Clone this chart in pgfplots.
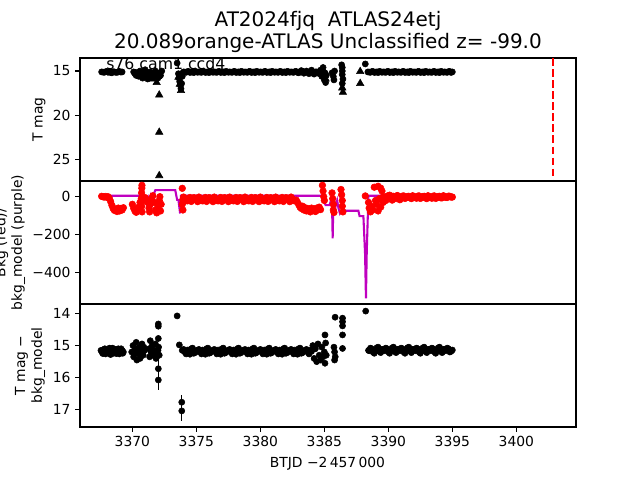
\documentclass[border=0pt]{standalone}
\usepackage{pgfplots}
\pgfplotsset{compat=1.18}
\usepackage{fontspec}
\setmainfont{DejaVu Sans}
\definecolor{mpurple}{rgb}{0.75,0,0.75}
\begin{document}
\begin{tikzpicture}
\useasboundingbox (0,0) rectangle (480pt,-360pt);
\pgfplotsset{
  panel/.style={scale only axis, width=372pt, height=92.25pt,
    xmin=3365.91, xmax=3404.66, anchor=north west,
    axis line style={line width=0.83pt}, tick style={line width=0.83pt, black},
    tick align=outside, major tick length=3.6pt, xtick pos=bottom, ytick pos=left,
    every tick label/.append style={font=\fontsize{10.4}{12.5}\selectfont},
    /pgf/number format/assume math mode=true, /pgf/number format/1000 sep={},
    clip=true},
  kdot/.style={only marks, mark=*, mark size=2.3pt, black, mark options={draw=none, fill=black}},
  rdot/.style={only marks, mark=*, mark size=2.5pt, red, mark options={draw=none, fill=red}},
  ktri/.style={only marks, mark=triangle*, mark size=3.2pt, black, mark options={draw=none, fill=black}}
}
% ---------------- top panel
\begin{axis}[panel, at={(60pt,-43.5pt)}, y dir=reverse, ymin=13.53, ymax=27.41, ytick={15,20,25}, xtick=\empty]
\addplot[kdot] coordinates {
(3367.6,15.1)(3367.7,15.12)(3367.8,15.15)(3367.9,15.08)(3368.0,15.05)(3368.1,15.14)(3368.2,15.1)(3368.3,15.16)(3368.4,15.2)(3368.5,15.08)(3368.6,15.1)(3368.7,15.14)(3368.8,15.15)(3368.9,15.1)(3369.0,15.05)(3369.1,15.12)(3369.2,15.1)
(3370.1,15.1)(3370.2,15.3)(3370.3,15.5)(3370.4,15.2)(3370.5,15.6)(3370.6,15.0)(3370.7,15.4)(3370.8,15.8)(3370.9,15.3)(3371.0,14.85)(3371.0,15.6)(3371.1,15.2)(3371.2,15.9)(3371.3,15.5)(3371.4,15.1)(3371.5,15.7)(3371.6,15.3)(3371.7,15.6)(3371.8,15.0)(3371.9,15.4)(3372.0,15.8)(3372.1,15.2)(3372.2,15.5)(3372.3,15.0)
(3370.25,15.15)(3370.45,15.4)(3370.65,15.25)(3371.15,15.45)(3371.45,15.3)(3371.75,15.2)(3372.05,15.45)
(3373.5,14.1)(3373.6,15.3)(3373.65,15.8)(3373.7,16.2)(3373.75,16.6)(3373.8,17.0)(3373.85,16.4)(3373.9,15.6)(3373.95,15.2)
(3374.0,15.1)(3374.2,15.15)(3374.4,15.05)(3374.6,15.12)(3374.8,15.18)(3375.0,15.08)(3375.2,15.1)(3375.4,15.15)(3375.6,15.05)(3375.8,15.12)(3376.0,15.18)(3376.2,15.08)(3376.4,15.1)(3376.6,15.15)(3376.8,15.05)(3377.0,15.12)(3377.2,15.18)(3377.4,15.08)(3377.6,15.1)(3377.8,15.15)(3378.0,15.05)(3378.2,15.12)(3378.4,15.18)(3378.6,15.08)(3378.8,15.1)(3379.0,15.15)(3379.2,15.05)(3379.4,15.12)(3379.6,15.18)(3379.8,15.08)(3380.0,15.1)(3380.2,15.15)(3380.4,15.05)(3380.6,15.12)(3380.8,15.18)(3381.0,15.08)(3381.2,15.1)(3381.4,15.15)(3381.6,15.05)(3381.8,15.12)(3382.0,15.18)(3382.2,15.08)(3382.4,15.1)(3382.6,15.15)(3382.8,15.05)(3383.0,15.2)(3383.2,14.95)(3383.4,15.25)(3383.6,15.0)(3383.8,15.3)(3384.0,14.9)(3384.2,15.35)(3384.4,15.1)
(3374.1,15.12)(3374.3,15.06)(3374.5,15.16)(3374.7,15.1)(3374.9,15.04)(3375.1,15.14)(3375.3,15.12)(3375.5,15.06)(3375.7,15.16)(3375.9,15.1)(3376.1,15.04)(3376.3,15.14)(3376.5,15.12)(3376.7,15.06)(3376.9,15.16)(3377.1,15.1)(3377.3,15.04)(3377.5,15.14)(3377.7,15.12)(3377.9,15.06)(3378.1,15.16)(3378.3,15.1)(3378.5,15.04)(3378.7,15.14)(3378.9,15.12)(3379.1,15.06)(3379.3,15.16)(3379.5,15.1)(3379.7,15.04)(3379.9,15.14)(3380.1,15.12)(3380.3,15.06)(3380.5,15.16)(3380.7,15.1)(3380.9,15.04)(3381.1,15.14)(3381.3,15.12)(3381.5,15.06)(3381.7,15.16)(3381.9,15.1)(3382.1,15.04)(3382.3,15.14)(3382.5,15.12)(3382.7,15.06)(3382.9,15.16)(3383.1,15.1)(3383.3,15.04)(3383.5,15.14)(3383.7,15.12)(3383.9,15.06)(3384.1,15.16)(3384.3,15.1)
(3384.6,15.3)(3384.7,14.9)(3384.8,15.6)(3384.9,14.6)(3385.0,16.0)(3385.05,15.2)(3385.1,16.3)(3385.15,15.5)(3385.6,15.2)(3385.7,15.6)(3385.75,16.0)(3385.8,15.0)(3386.35,14.3)(3386.4,14.6)(3386.4,15.0)(3386.4,15.4)(3386.45,15.9)(3386.4,16.4)
(3388.2,14.2)
(3388.4,15.1)(3388.6,15.15)(3388.8,15.05)(3389.0,15.12)(3389.2,15.18)(3389.4,15.08)(3389.6,15.1)(3389.8,15.15)(3390.0,15.05)(3390.2,15.12)(3390.4,15.18)(3390.6,15.08)(3390.8,15.1)(3391.0,15.15)(3391.2,15.05)(3391.4,15.12)(3391.6,15.18)(3391.8,15.08)(3392.0,15.1)(3392.2,15.15)(3392.4,15.05)(3392.6,15.12)(3392.8,15.18)(3393.0,15.08)(3393.2,15.1)(3393.4,15.15)(3393.6,15.05)(3393.8,15.12)(3394.0,15.18)(3394.2,15.08)(3394.4,15.1)(3394.6,15.15)(3394.8,15.05)(3395.0,15.1)
(3388.5,15.12)(3388.7,15.06)(3388.9,15.16)(3389.1,15.1)(3389.3,15.04)(3389.5,15.14)(3389.7,15.12)(3389.9,15.06)(3390.1,15.16)(3390.3,15.1)(3390.5,15.04)(3390.7,15.14)(3390.9,15.12)(3391.1,15.06)(3391.3,15.16)(3391.5,15.1)(3391.7,15.04)(3391.9,15.14)(3392.1,15.12)(3392.3,15.06)(3392.5,15.16)(3392.7,15.1)(3392.9,15.04)(3393.1,15.14)(3393.3,15.12)(3393.5,15.06)(3393.7,15.16)(3393.9,15.1)(3394.1,15.04)(3394.3,15.14)(3394.5,15.12)(3394.7,15.06)(3394.9,15.16)
};
\addplot[ktri] coordinates {
(3372.1,17.7)(3372.1,21.9)(3372.1,26.8)(3371.6,15.9)(3371.9,16.3)(3372.0,15.6)
(3373.6,15.7)(3373.7,16.5)(3373.8,17.2)(3385.1,15.9)(3386.4,16.9)(3386.45,17.4)
(3387.8,15.05)(3387.8,16.4)(3384.9,14.9)
};
\addplot[red, line width=1.56pt, dash pattern=on 5.8pt off 2.5pt] coordinates {(3402.84,13.53)(3402.84,27.41)};
\end{axis}
% ---------------- middle panel
\begin{axis}[panel, at={(60pt,-135.75pt)}, ymin=-565, ymax=82.6, ytick={-400,-200,0}, yticklabels={−400,−200,0}, xtick=\empty]
\addplot[rdot] coordinates {
(3367.6,2)(3367.7,0)(3367.8,-2)(3367.9,1)(3368.0,-3)(3368.1,0)(3368.2,-8)(3368.3,-25)(3368.4,-45)(3368.5,-62)(3368.6,-72)(3368.7,-65)(3368.8,-78)(3368.9,-60)(3369.0,-75)(3369.1,-62)(3369.2,-70)(3369.3,-58)
(3370.0,-40)(3370.1,-60)(3370.2,-75)(3370.3,-82)(3370.4,-70)(3370.5,-55)(3370.6,-30)(3370.7,-10)(3370.72,20)(3370.74,45)(3370.75,60)(3370.73,-50)(3370.76,-80)(3370.9,-20)(3371.0,-5)(3371.2,-30)(3371.3,-60)(3371.35,-80)(3371.4,-40)(3371.5,-10)(3371.6,5)(3371.7,-30)(3371.8,-70)(3371.9,-85)(3372.0,-50)(3372.1,-20)(3372.15,0)(3372.2,-75)(3372.25,-40)
(3373.9,44)(3373.9,-40)(3373.95,-70)(3373.95,-15)
(3374.0,-2)(3374.2,-20)(3374.4,-10)(3374.6,-25)(3374.8,-5)(3375.0,-15)(3375.2,-2)(3375.4,-20)(3375.6,-10)(3375.8,-25)(3376.0,-5)(3376.2,-15)(3376.4,-2)(3376.6,-20)(3376.8,-10)(3377.0,-25)(3377.2,-5)(3377.4,-15)(3377.6,-2)(3377.8,-20)(3378.0,-10)(3378.2,-25)(3378.4,-5)(3378.6,-15)(3378.8,-2)(3379.0,-20)(3379.2,-10)(3379.4,-25)(3379.6,-5)(3379.8,-15)(3380.0,-2)(3380.2,-20)(3380.4,-10)(3380.6,-25)(3380.8,-5)(3381.0,-15)(3381.2,-2)(3381.4,-20)(3381.6,-10)(3381.8,-25)(3382.0,-5)(3382.2,-15)(3382.4,-2)(3382.6,-20)
(3374.1,-12)(3374.3,-22)(3374.5,-4)(3374.7,-18)(3374.9,-8)(3375.1,-26)(3375.3,-12)(3375.5,-22)(3375.7,-4)(3375.9,-18)(3376.1,-8)(3376.3,-26)(3376.5,-12)(3376.7,-22)(3376.9,-4)(3377.1,-18)(3377.3,-8)(3377.5,-26)(3377.7,-12)(3377.9,-22)(3378.1,-4)(3378.3,-18)(3378.5,-8)(3378.7,-26)(3378.9,-12)(3379.1,-22)(3379.3,-4)(3379.5,-18)(3379.7,-8)(3379.9,-26)(3380.1,-12)(3380.3,-22)(3380.5,-4)(3380.7,-18)(3380.9,-8)(3381.1,-26)(3381.3,-12)(3381.5,-22)(3381.7,-4)(3381.9,-18)(3382.1,-8)(3382.3,-26)(3382.5,-12)(3382.7,-22)
(3382.8,-18)(3382.9,-30)(3383.0,-42)(3383.1,-55)(3383.2,-62)(3383.3,-50)(3383.4,-70)(3383.5,-58)(3383.6,-75)(3383.7,-62)(3383.8,-70)(3383.9,-80)(3384.0,-60)(3384.1,-72)(3384.2,-65)(3384.3,-78)(3384.4,-60)(3384.5,-70)(3384.6,-55)(3384.7,-68)
(3384.85,60)(3384.9,30)(3384.95,0)(3385.0,-20)(3385.6,20)(3385.65,-10)(3385.7,-40)(3385.7,-70)(3385.75,-83)(3386.3,38)(3386.35,10)(3386.4,-20)(3386.4,-50)(3386.45,-80)
(3388.2,4)(3388.45,-30)(3388.5,-60)(3388.6,-80)(3388.7,-50)(3388.8,-70)(3388.9,50)(3389.0,-20)(3389.1,-40)(3389.2,55)(3389.2,-75)(3389.3,-10)(3389.4,45)(3389.4,-55)(3389.5,30)(3389.6,-30)
(3389.6,0)(3389.8,-8)(3390.0,4)(3390.2,-5)(3390.4,2)(3390.6,-10)(3390.8,0)(3391.0,-8)(3391.2,4)(3391.4,-5)(3391.6,2)(3391.8,-10)(3392.0,0)(3392.2,-8)(3392.4,4)(3392.6,-5)(3392.8,2)(3393.0,-10)(3393.2,0)(3393.4,-8)(3393.6,4)(3393.8,-5)(3394.0,2)(3394.2,-6)(3394.4,0)(3394.6,-4)(3394.8,2)(3395.0,-2)
(3389.7,-4)(3389.9,3)(3390.1,-9)(3390.3,1)(3390.5,-6)(3390.7,5)(3390.9,-4)(3391.1,3)(3391.3,-9)(3391.5,1)(3391.7,-6)(3391.9,5)(3392.1,-4)(3392.3,3)(3392.5,-9)(3392.7,1)(3392.9,-6)(3393.1,5)(3393.3,-4)(3393.5,3)(3393.7,-9)(3393.9,1)(3394.1,-6)(3394.3,5)(3394.5,-4)(3394.7,3)(3394.9,-2)
(3389.8,-20)(3390.1,8)(3390.3,-18)(3390.7,6)(3390.9,-16)
};
\addplot[mpurple, line width=1.56pt] coordinates {
(3367.53,5)(3371.0,5)(3371.05,-20)(3371.15,-44)(3371.25,-10)(3371.35,-35)(3371.45,0)(3371.55,-30)(3371.65,10)(3371.8,35)(3373.35,35)(3373.5,-17)(3373.6,-17)(3373.73,-88)(3373.8,5)(3384.9,5)(3385.0,-30)(3385.1,-44)(3385.4,-44)(3385.5,-25)(3385.6,-44)(3385.65,-219)(3385.7,-44)(3385.8,-30)(3385.9,-45)(3386.0,-20)(3386.1,-60)(3386.22,-88)(3386.36,-74)(3387.66,-74)(3387.75,-102)(3388.05,-102)(3388.18,-300)(3388.25,-535)(3388.31,-300)(3388.44,5)(3394.95,5)
};
\end{axis}
% ---------------- bottom panel
\begin{axis}[panel, at={(60pt,-228pt)}, y dir=reverse, ymin=13.71, ymax=17.53, ytick={14,15,16,17}, xtick={3370,3375,...,3400}]
\addplot[kdot] coordinates {
(3367.55,15.15)(3367.7,15.25)(3367.85,15.1)(3368.0,15.22)(3368.15,15.12)(3368.3,15.28)(3368.45,15.08)(3368.6,15.2)(3368.75,15.25)(3368.9,15.1)(3369.05,15.22)(3369.2,15.15)(3369.3,15.2)
(3367.62,15.2)(3367.78,15.12)(3367.92,15.26)(3368.08,15.16)(3368.22,15.08)(3368.38,15.2)(3368.52,15.24)(3368.68,15.12)(3368.82,15.18)(3368.98,15.26)(3369.12,15.1)(3369.25,15.24)
(3369.95,15.2)(3370.05,15.0)(3370.1,15.35)(3370.2,15.15)(3370.3,14.9)(3370.35,15.45)(3370.45,15.25)(3370.55,15.05)(3370.6,15.4)(3370.7,15.2)(3370.75,14.95)(3370.85,15.3)(3370.95,15.15)(3371.3,15.1)(3371.35,15.35)(3371.4,14.85)(3371.45,15.2)(3371.55,15.0)(3371.6,15.3)(3371.7,15.15)(3371.8,14.95)(3371.85,15.4)(3371.95,15.25)(3372.05,15.05)(3372.1,15.3)(3372.03,14.33)(3372.03,14.4)(3372.03,14.78)
(3370.15,15.25)(3370.4,15.1)(3370.65,15.3)(3370.9,15.05)(3371.5,15.15)(3371.75,15.3)(3372.0,15.15)
(3373.5,14.08)(3373.67,14.98)(3373.9,15.15)
(3374.0,15.12)(3374.2,15.26)(3374.4,15.18)(3374.6,15.10)(3374.8,15.24)(3375.0,15.16)(3375.2,15.12)(3375.4,15.26)(3375.6,15.18)(3375.8,15.10)(3376.0,15.24)(3376.2,15.16)(3376.4,15.12)(3376.6,15.26)(3376.8,15.18)(3377.0,15.10)(3377.2,15.24)(3377.4,15.16)(3377.6,15.12)(3377.8,15.26)(3378.0,15.18)(3378.2,15.10)(3378.4,15.24)(3378.6,15.16)(3378.8,15.12)(3379.0,15.26)(3379.2,15.18)(3379.4,15.10)(3379.6,15.24)(3379.8,15.16)(3380.0,15.12)(3380.2,15.26)(3380.4,15.18)(3380.6,15.10)(3380.8,15.24)(3381.0,15.16)(3381.2,15.12)(3381.4,15.26)(3381.6,15.18)(3381.8,15.10)(3382.0,15.24)(3382.2,15.16)(3382.4,15.12)(3382.6,15.26)(3382.8,15.18)(3383.0,15.10)(3383.2,15.24)(3383.4,15.16)(3383.6,15.12)(3383.8,15.26)(3384.0,15.18)
(3374.1,15.2)(3374.3,15.14)(3374.5,15.27)(3374.7,15.08)(3374.9,15.22)(3375.1,15.15)(3375.3,15.2)(3375.5,15.14)(3375.7,15.27)(3375.9,15.08)(3376.1,15.22)(3376.3,15.15)(3376.5,15.2)(3376.7,15.14)(3376.9,15.27)(3377.1,15.08)(3377.3,15.22)(3377.5,15.15)(3377.7,15.2)(3377.9,15.14)(3378.1,15.27)(3378.3,15.08)(3378.5,15.22)(3378.7,15.15)(3378.9,15.2)(3379.1,15.14)(3379.3,15.27)(3379.5,15.08)(3379.7,15.22)(3379.9,15.15)(3380.1,15.2)(3380.3,15.14)(3380.5,15.27)(3380.7,15.08)(3380.9,15.22)(3381.1,15.15)(3381.3,15.2)(3381.5,15.14)(3381.7,15.27)(3381.9,15.08)(3382.1,15.22)(3382.3,15.15)(3382.5,15.2)(3382.7,15.14)(3382.9,15.27)(3383.1,15.08)(3383.3,15.22)(3383.5,15.15)(3383.7,15.2)(3383.9,15.14)
(3384.1,15.0)(3384.2,15.4)(3384.3,15.1)(3384.4,15.5)(3384.5,14.95)(3384.6,15.3)(3384.7,15.45)(3384.8,15.05)(3384.9,15.35)(3385.0,15.2)(3385.05,15.55)(3385.1,14.92)(3385.15,15.3)
(3385.05,14.67)(3385.84,14.12)(3385.75,15.05)(3385.8,15.2)(3385.85,15.35)(3385.8,15.45)(3386.42,14.15)(3386.42,14.26)(3386.42,14.39)(3386.42,14.67)(3386.42,15.09)(3388.23,13.93)
(3388.45,15.15)(3388.6,15.08)(3388.8,15.2)(3389.0,15.14)(3389.2,15.05)(3389.4,15.22)(3389.6,15.12)(3389.8,15.08)(3390.0,15.2)(3390.2,15.14)(3390.4,15.05)(3390.6,15.22)(3390.8,15.12)(3391.0,15.08)(3391.2,15.2)(3391.4,15.14)(3391.6,15.05)(3391.8,15.22)(3392.0,15.12)(3392.2,15.08)(3392.4,15.2)(3392.6,15.14)(3392.8,15.05)(3393.0,15.22)(3393.2,15.12)(3393.4,15.08)(3393.6,15.2)(3393.8,15.14)(3394.0,15.05)(3394.2,15.22)(3394.4,15.12)(3394.6,15.08)(3394.8,15.2)(3395.0,15.14)
(3388.5,15.16)(3388.7,15.1)(3388.9,15.24)(3389.1,15.07)(3389.3,15.18)(3389.5,15.12)(3389.7,15.16)(3389.9,15.1)(3390.1,15.24)(3390.3,15.07)(3390.5,15.18)(3390.7,15.12)(3390.9,15.16)(3391.1,15.1)(3391.3,15.24)(3391.5,15.07)(3391.7,15.18)(3391.9,15.12)(3392.1,15.16)(3392.3,15.1)(3392.5,15.24)(3392.7,15.07)(3392.9,15.18)(3393.1,15.12)(3393.3,15.16)(3393.5,15.1)(3393.7,15.24)(3393.9,15.07)(3394.1,15.18)(3394.3,15.12)(3394.5,15.16)(3394.7,15.1)(3394.9,15.18)
};
\addplot[kdot, error bars/.cd, y dir=both, y explicit, error bar style={line width=1.1pt, black}, error mark=none] coordinates {
(3372.03,15.72) +- (0,0.35)
(3372.03,16.07) +- (0,0.32)
(3373.86,16.76) +- (0,0.22)
(3373.86,17.03) +- (0,0.3)
};
\end{axis}
% ---------------- texts
\node[anchor=base, font=\fontsize{15}{18}\selectfont] at (246pt,-20pt) {AT2024fjq\ \ ATLAS24etj};
\node[anchor=base, font=\fontsize{15}{18}\selectfont] at (246pt,-36.2pt) {20.089orange-ATLAS Unclassified z= -99.0};
\node[anchor=base west, font=\fontsize{11.8}{14}\selectfont, inner sep=0pt] at (79.5pt,-51.75pt) {s76 cam1 ccd4};
\node[rotate=90, font=\fontsize{10.4}{12.5}\selectfont] at (29.2pt,-89.6pt) {T mag};
\node[rotate=90, align=center, font=\fontsize{10.4}{12.5}\selectfont] at (7.5pt,-181.9pt) {Bkg (red)/\\bkg\_model (purple)};
\node[rotate=90, align=center, font=\fontsize{10.4}{12.5}\selectfont] at (22.5pt,-274.1pt) {T mag −\\bkg\_model};
\node[anchor=base, font=\fontsize{10.4}{12.5}\selectfont] at (245.6pt,-350.8pt) {BTJD −2\,457\,000};
\end{tikzpicture}
\end{document}
